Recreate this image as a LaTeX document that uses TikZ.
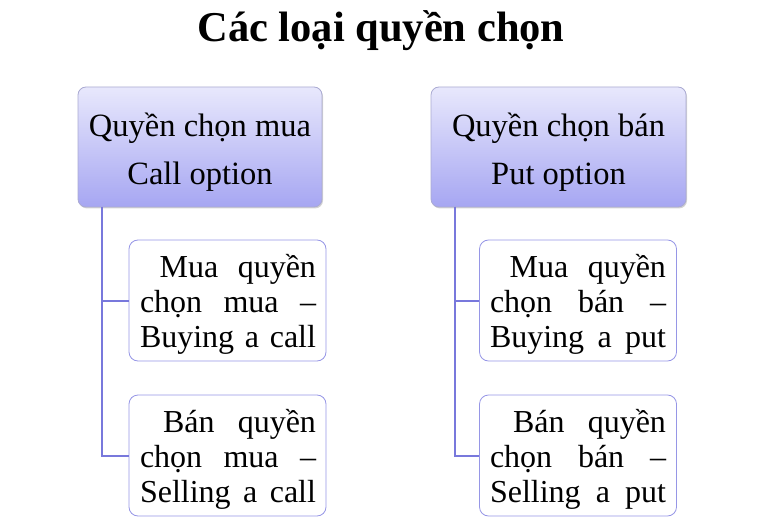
\documentclass[tikz,border=0pt]{standalone}
\usepackage{fontspec}
\setmainfont{Liberation Serif}
\usetikzlibrary{shadows}
\definecolor{topc}{RGB}{232,232,252}
\definecolor{botc}{RGB}{166,166,242}
\definecolor{bordc}{RGB}{170,170,210}
\definecolor{linec}{RGB}{120,120,220}
\definecolor{childb}{RGB}{150,150,230}
\tikzset{
  x=1pt,y=-1pt,
  parentbox/.style={draw=bordc, line width=0.8pt, rounded corners=8pt, top color=topc, bottom color=botc,
    minimum width=244pt, minimum height=120pt, inner sep=0pt,
    drop shadow={shadow xshift=1pt, shadow yshift=-1.5pt, opacity=0.35}},
  parenttext/.style={align=center, inner sep=0pt, font=\fontsize{32.5}{48}\selectfont},
  childbox/.style={draw=childb, line width=0.8pt, rounded corners=9pt, fill=white,
    minimum width=197pt, minimum height=121pt, inner sep=0pt},
  childtext/.style={inner sep=0pt, font=\fontsize{32}{35}\selectfont},
  conn/.style={draw=linec, line width=2pt},
}
\newcommand{\jline}[1]{\makebox[176pt][s]{#1}}
\newcommand{\jpar}[3]{\parbox{176pt}{\baselineskip=35pt \jline{#1}\\\jline{#2}\\\jline{#3}}}
\begin{document}
\begin{tikzpicture}
\useasboundingbox (0,0) rectangle (759,526);
\node[font=\bfseries\fontsize{42.5}{48}\selectfont, inner sep=0pt] (title) at (381,31) {Các loại quyền chọn};
\node[parentbox] (p1) at (200,147) {};
\node[parentbox, minimum width=255pt] (p2) at (558.5,147) {};
\node[parenttext] (p1t) at (200,152) {Quyền chọn mua\\Call option};
\node[parenttext] (p2t) at (558.5,152) {Quyền chọn bán\\Put option};
\node[childbox] (c1) at (227.5,300.5) {};
\node[childbox] (c2) at (227.5,455.5) {};
\node[childbox] (c3) at (578,300.5) {};
\node[childbox] (c4) at (578,455.5) {};
\node[childtext] (c1t) at (228,304) {\jpar{\ Mua\ quyền}{chọn mua –}{Buying a call}};
\node[childtext] (c2t) at (228,459) {\jpar{\ Bán\ quyền}{chọn mua –}{Selling a call}};
\node[childtext] (c3t) at (578,304) {\jpar{\ Mua\ quyền}{chọn bán –}{Buying a put}};
\node[childtext] (c4t) at (578,459) {\jpar{\ Bán\ quyền}{chọn bán –}{Selling a put}};
\coordinate (s1) at (102,207);
\coordinate (s2) at (455,207);
\draw[conn] (s1) |- (c1.west);
\draw[conn] (s1) |- (c2.west);
\draw[conn] (s2) |- (c3.west);
\draw[conn] (s2) |- (c4.west);
\end{tikzpicture}
\end{document}
